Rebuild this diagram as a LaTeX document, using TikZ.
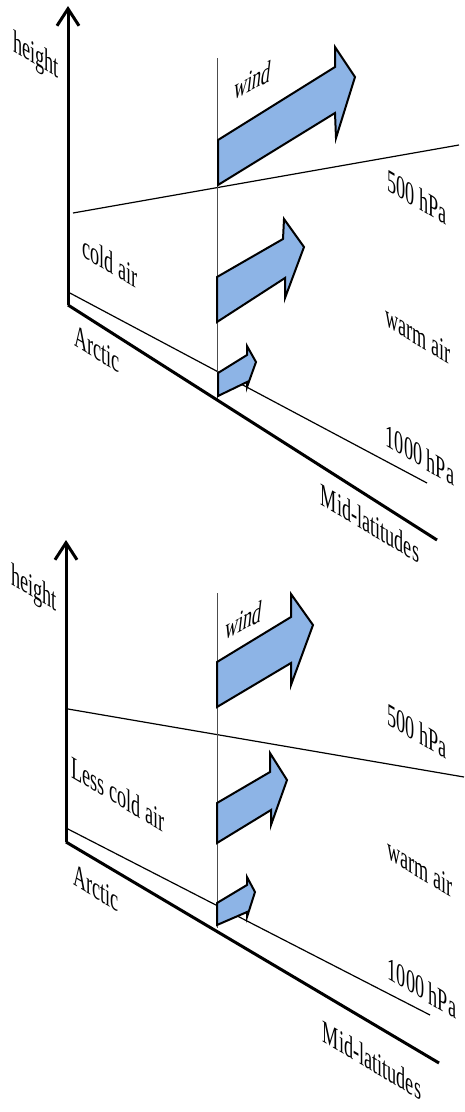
\documentclass[tikz,border=0pt]{standalone}
\usepackage{fontspec}
\setmainfont{Liberation Serif}
\usetikzlibrary{arrows.meta}

\definecolor{windblue}{RGB}{141,180,230}

\tikzset{
  wall/.style={cm={0.57,-0.34,0,1,(0,0)}, inner sep=0pt, font=\fontsize{32}{38}\selectfont},
  upwall/.style={cm={0.57,0.3,0.12,1,(0,0)}, inner sep=0pt, font=\fontsize{32}{38}\selectfont},
  windarrow/.style={fill=windblue, draw=black, line width=2pt, line join=miter},
  axis/.style={line width=3pt},
  level/.style={line width=1.2pt},
}

\begin{document}
\begin{tikzpicture}[x=1pt, y=-1pt]
\useasboundingbox (0,0) rectangle (464,1112);

% upper panel
\coordinate (O1) at (68,305);
\coordinate (H1) at (68,6);
\coordinate (M1) at (437,540);
\coordinate (G1) at (68,292);
\coordinate (K1) at (427,483);
\coordinate (P1) at (73,213);
\coordinate (Q1) at (459,145);
\coordinate (V1) at (217,58);
\coordinate (W1) at (217,400);

\draw[level] (G1) -- (K1);
\draw[level] (P1) -- (Q1);
\draw[line width=0.8pt, black!70] (V1) -- (W1);
\draw[axis] (O1) -- (M1);
\draw[axis, -{Straight Barb[length=17pt,width=22pt]}] (O1) -- (H1);

\draw[windarrow] (218,140) -- (335,67) -- (335,47) -- (355,77) -- (336,138) -- (335,113) -- (218,185) -- cycle;
\draw[windarrow] (217,277) -- (283,239) -- (284,219) -- (304,247) -- (285,298) -- (285,278) -- (217,322) -- cycle;
\draw[windarrow] (218,373) -- (247,355) -- (247,346) -- (256,362) -- (247,387) -- (247,382) -- (218,396) -- cycle;

\node[wall] (height1) at (36,57) {height};
\node[upwall] (wind1) at (253,80) {wind};
\node[wall] (hpa5001) at (417,197) {500 hPa};
\node[wall] (cold1) at (110,262) {cold air};
\node[wall] (warm1) at (418,335) {warm air};
\node[wall] (arctic1) at (97,349) {Arctic};
\node[wall] (hpa10001) at (420,455) {1000 hPa};
\node[wall] (mid1) at (370,523) {Mid-latitudes};

% lower panel
\coordinate (O2) at (66,842);
\coordinate (H2) at (66,540);
\coordinate (M2) at (439,1063);
\coordinate (G2) at (66,828);
\coordinate (K2) at (430,1015);
\coordinate (P2) at (68,709);
\coordinate (Q2) at (464,777);
\coordinate (V2) at (217,593);
\coordinate (W2) at (217,928);

\draw[level] (G2) -- (K2);
\draw[level] (P2) -- (Q2);
\draw[line width=0.8pt, black!70] (V2) -- (W2);
\draw[axis] (O2) -- (M2);
\draw[axis, -{Straight Barb[length=17pt,width=22pt]}] (O2) -- (H2);

\draw[windarrow] (217,662) -- (291,617) -- (291,594) -- (313,625) -- (291,685) -- (291,663) -- (217,707) -- cycle;
\draw[windarrow] (217,803) -- (270,772) -- (270,753) -- (287,780) -- (271,825) -- (271,810) -- (217,843) -- cycle;
\draw[windarrow] (217,903) -- (247,885) -- (247,877) -- (255,892) -- (247,917) -- (247,912) -- (217,925) -- cycle;

\node[wall] (height2) at (34,590) {height};
\node[upwall] (wind2) at (244,620) {wind};
\node[wall] (hpa5002) at (417,731) {500 hPa};
\node[wall] (cold2) at (118,794) {Less cold air};
\node[wall] (warm2) at (420,868) {warm air};
\node[wall] (arctic2) at (96,888) {Arctic};
\node[wall] (hpa10002) at (422,988) {1000 hPa};
\node[wall] (mid2) at (372,1060) {Mid-latitudes};
\end{tikzpicture}
\end{document}
